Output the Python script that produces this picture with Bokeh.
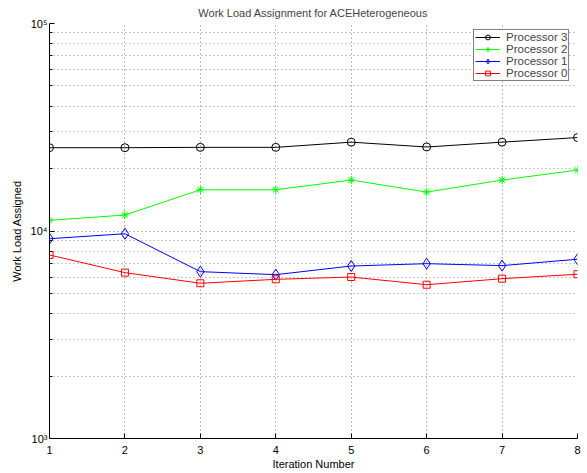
from bokeh.plotting import figure
from bokeh.models import FixedTicker, Legend, LegendItem, Title
from bokeh.embed import file_html
from bokeh.resources import INLINE

iterations = [1, 2, 3, 4, 5, 6, 7, 8]
proc3 = [25200, 25200, 25300, 25300, 26800, 25400, 26800, 28200]
proc2 = [11260, 11940, 15800, 15800, 17600, 15400, 17600, 19670]
proc1 = [9180, 9700, 6370, 6160, 6780, 6960, 6810, 7310]
proc0 = [7665, 6300, 5600, 5850, 6000, 5510, 5890, 6190]

y_major = [1e3, 1e4, 1e5]
y_minor = [m * 10 ** k for k in (3, 4) for m in range(2, 10)]
y_labels = {1000: "10³", 10000: "10⁴", 100000: "10⁵"}

FONT = "Liberation Sans"

p = figure(width=587, height=473, y_axis_type="log",
           x_range=(1, 8), y_range=(1e3, 1e5),
           output_backend="svg", toolbar_location=None,
           min_border_left=49, min_border_right=10,
           min_border_top=23, min_border_bottom=35)
p.title = Title(text="Work Load Assignment for ACEHeterogeneous", align="center",
                text_font=FONT, text_font_size="11px", text_font_style="normal",
                standoff=9, offset=0)
p.outline_line_color = None
p.background_fill_color = "white"

yt = FixedTicker(ticks=y_major, minor_ticks=y_minor)
xt = FixedTicker(ticks=iterations, minor_ticks=[])
p.yaxis.ticker = yt
p.xaxis.ticker = xt
p.yaxis.major_label_overrides = y_labels

for ax in (p.xaxis[0], p.yaxis[0]):
    ax.major_tick_in = 5
    ax.major_tick_out = 0
    ax.minor_tick_in = 3
    ax.minor_tick_out = 0
    ax.axis_line_color = "black"
    ax.major_tick_line_color = "black"
    ax.minor_tick_line_color = "black"
    ax.major_label_text_font = FONT
    ax.major_label_text_font_size = "11px"
    ax.major_label_text_color = "black"
    ax.axis_label_text_font = FONT
    ax.axis_label_text_font_size = "11px"
    ax.axis_label_text_font_style = "normal"
    ax.axis_label_text_color = "black"
p.xaxis.minor_tick_line_color = None
p.xaxis.axis_label = "Iteration Number"
p.yaxis.axis_label = "Work Load Assigned"
p.xaxis.major_label_standoff = 7
p.yaxis.major_label_standoff = 2
p.xaxis.axis_label_standoff = 1
p.yaxis.axis_label_standoff = 5

p.xgrid.ticker = xt
p.ygrid.ticker = yt
for g in (p.xgrid[0], p.ygrid[0]):
    g.grid_line_color = "#777777"
    g.grid_line_dash = "1 3"
    g.grid_line_width = 1
p.ygrid.minor_grid_line_color = "#999999"
p.ygrid.minor_grid_line_dash = "1 3"

series = [
    ("Processor 3", proc3, "black", "circle", 8),
    ("Processor 2", proc2, "#00ff00", "asterisk", 8),
    ("Processor 1", proc1, "#0000ff", "diamond", 11),
    ("Processor 0", proc0, "#ff0000", "square", 7),
]
items = []
for name, vals, col, mk, sz in series:
    ln = p.line(iterations, vals, line_color=col, line_width=1)
    sc = p.scatter(iterations, vals, marker=mk, size=sz, line_color=col,
                   fill_color=None, line_width=1)
    items.append(LegendItem(label=name, renderers=[ln, sc]))

leg = Legend(items=items, location=(424, 357), margin=0, padding=1, spacing=0,
             label_height=12, glyph_height=12, glyph_width=25, label_standoff=6,
             label_text_font=FONT, label_text_font_size="11.5px",
             border_line_color="black", border_line_width=1.5,
             background_fill_color="white", background_fill_alpha=1)
p.add_layout(leg)

open("out.html", "w").write(file_html(p, INLINE))
